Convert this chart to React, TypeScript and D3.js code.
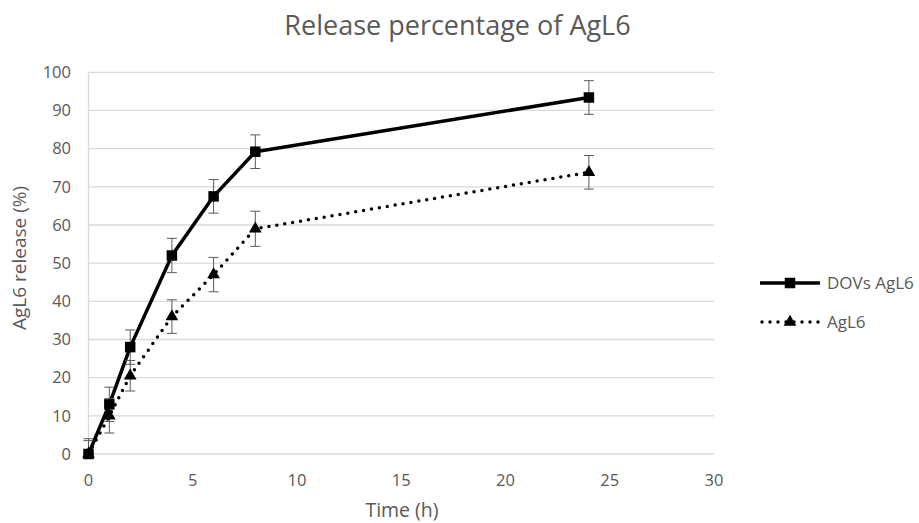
import React from "react";
import * as d3 from "d3";

const times = [0, 1, 2, 4, 6, 8, 24];
const dovsValues = [0, 13, 28, 52, 67.5, 79.2, 93.4];
const dovsErrors = [4, 4.5, 4.5, 4.5, 4.4, 4.4, 4.4];
const aglValues = [0, 10, 20.5, 36, 47, 59, 73.8];
const aglErrors = [3.5, 4.5, 4, 4.4, 4.5, 4.6, 4.4];
const xTicks = [0, 5, 10, 15, 20, 25, 30];
const yTicks = [0, 10, 20, 30, 40, 50, 60, 70, 80, 90, 100];
const seriesNames = ["DOVs AgL6", "AgL6"];
const title = "Release percentage of AgL6";
const xTitle = "Time (h)";
const yTitle = "AgL6 release (%)";

const W = 919;
const H = 523;
const FONT = "'Open Sans', sans-serif";
const TEXT = "#595959";
const GRID = "#d9d9d9";

export default function App() {
  const x = d3.scaleLinear().domain([0, 30]).range([88.5, 714]);
  const y = d3.scaleLinear().domain([0, 100]).range([454, 72.3]);
  const line = d3
    .line<[number, number]>()
    .x((d) => x(d[0]))
    .y((d) => y(d[1]));
  const dovs: [number, number][] = times.map((t, i) => [t, dovsValues[i]]);
  const agl: [number, number][] = times.map((t, i) => [t, aglValues[i]]);
  const sq = d3.symbol(d3.symbolSquare, 110)();
  const tri = d3.symbol(d3.symbolTriangle, 70)();

  const errBars = (vals: number[], errs: number[], key: string) =>
    times.map((t, i) => {
      const cx = x(t);
      const y1 = y(vals[i] + errs[i]);
      const y0 = y(Math.max(0, vals[i] - errs[i]));
      return (
        <g key={key + i} stroke={TEXT} strokeWidth={1}>
          <line x1={cx} x2={cx} y1={y0} y2={y1} />
          <line x1={cx - 5} x2={cx + 5} y1={y1} y2={y1} />
          <line x1={cx - 5} x2={cx + 5} y1={y0} y2={y0} />
        </g>
      );
    });

  return (
    <svg
      width={W}
      height={H}
      style={{ position: "absolute", left: 0, top: 0, background: "#fff" }}
      fontFamily={FONT}
    >
      <rect width={W} height={H} fill="#fff" />
      <text x={457.5} y={35} textAnchor="middle" fontSize={27} fill={TEXT}>
        {title}
      </text>
      {yTicks.map((t) => (
        <g key={"y" + t}>
          <line x1={x(0)} x2={x(30)} y1={y(t)} y2={y(t)} stroke={GRID} strokeWidth={1.3} />
          <text x={71} y={y(t)} dy="0.35em" textAnchor="end" fontSize={16.5} fill={TEXT}>
            {t}
          </text>
        </g>
      ))}
      <line x1={x(0)} x2={x(0)} y1={y(0)} y2={y(100)} stroke={GRID} strokeWidth={1.3} />
      {xTicks.map((t) => (
        <text key={"x" + t} x={x(t)} y={486} textAnchor="middle" fontSize={16.5} fill={TEXT}>
          {t}
        </text>
      ))}
      <text x={402} y={517} textAnchor="middle" fontSize={19.5} fill={TEXT}>
        {xTitle}
      </text>
      <text
        transform={`translate(26,258) rotate(-90)`}
        textAnchor="middle"
        fontSize={19}
        fill={TEXT}
      >
        {yTitle}
      </text>

      <path d={line(dovs) || ""} fill="none" stroke="#000" strokeWidth={3.5} strokeLinejoin="round" />
      <path
        d={line(agl) || ""}
        fill="none"
        stroke="#000"
        strokeWidth={3.5}
        strokeDasharray="0 8"
        strokeLinecap="round"
      />
      {errBars(dovsValues, dovsErrors, "d")}
      {errBars(aglValues, aglErrors, "a")}
      {dovs.map((d, i) => (
        <path key={"s" + i} d={sq || ""} transform={`translate(${x(d[0])},${y(d[1])})`} fill="#000" />
      ))}
      {agl.map((d, i) => (
        <path key={"t" + i} d={tri || ""} transform={`translate(${x(d[0])},${y(d[1])})`} fill="#000" />
      ))}

      <g>
        <line x1={760} x2={820} y1={283} y2={283} stroke="#000" strokeWidth={3.5} />
        <path d={sq || ""} transform="translate(790,283)" fill="#000" />
        <text x={827} y={283} dy="0.35em" fontSize={17} fill={TEXT}>
          {seriesNames[0]}
        </text>
        <line
          x1={762}
          x2={820}
          y1={322}
          y2={322}
          stroke="#000"
          strokeWidth={3.5}
          strokeDasharray="0 8"
          strokeLinecap="round"
        />
        <path d={tri || ""} transform="translate(790,322)" fill="#000" />
        <text x={827} y={322} dy="0.35em" fontSize={17} fill={TEXT}>
          {seriesNames[1]}
        </text>
      </g>
    </svg>
  );
}
